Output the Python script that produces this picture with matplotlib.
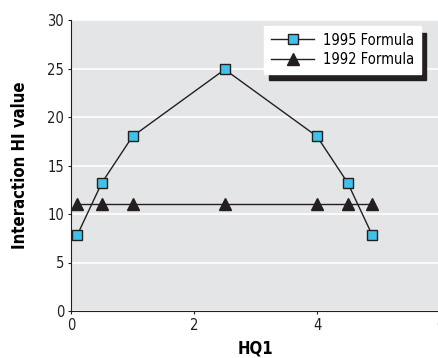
import matplotlib
matplotlib.use("Agg")
import matplotlib.pyplot as plt

plt.rcParams['font.family'] = ['DejaVu Sans']
plt.rcParams['font.stretch'] = 'condensed'

x95 = [0.1, 0.5, 1.0, 2.5, 4.0, 4.5, 4.9]
y95 = [7.8, 13.2, 18.0, 24.9, 18.0, 13.2, 7.8]
x92 = [0.1, 0.5, 1.0, 2.5, 4.0, 4.5, 4.9]
y92 = [11.0, 11.0, 11.0, 11.0, 11.0, 11.0, 11.0]
xticks = [0, 2, 4, 6]
yticks = [0, 5, 10, 15, 20, 25, 30]

fig = plt.figure(figsize=(4.38, 3.58), dpi=100)
ax = fig.add_axes([71/438, 1-311/358, (440-71)/438, (311-20)/358])
ax.set_facecolor('#e4e5e7')
ax.set_xlim(0, 6)
ax.set_ylim(0, 30)
ax.set_xticks(xticks)
ax.set_yticks(yticks)
ax.yaxis.grid(True, color='white', lw=1.2)
ax.set_axisbelow(True)
for s in ['top', 'right']:
    ax.spines[s].set_visible(False)
ax.spines['left'].set_color('#231f20')
ax.spines['bottom'].set_color('#231f20')
ax.tick_params(length=2, width=0.8, labelsize=10.5, colors='#231f20', pad=3)

ax.plot(x95, y95, color='#231f20', lw=1, marker='s', ms=7, mfc='#3fc1ea', mec='#231f20', mew=1, label='1995 Formula', clip_on=False, zorder=3)
ax.plot(x92, y92, color='#231f20', lw=1, marker='^', ms=9, mfc='#231f20', mec='#231f20', label='1992 Formula', clip_on=False, zorder=3)

ax.set_xlabel('HQ1', fontsize=12, fontweight='bold', labelpad=5)
ax.set_ylabel('Interaction HI value', fontsize=12, fontweight='bold', labelpad=13)

leg = ax.legend(loc='upper right', bbox_to_anchor=((421-71)/369, (311-26)/291), borderaxespad=0,
                frameon=True, shadow={'color': '#231f20', 'alpha': 1, 'ox': 3.6, 'oy': -5}, fancybox=False,
                fontsize=10.5, handlelength=3, borderpad=0.45, labelspacing=0.3, handletextpad=0.6)
leg.get_frame().set_edgecolor('white')
leg.get_frame().set_facecolor('white')
leg.get_frame().set_alpha(1)

fig.savefig('out.png', dpi=100)
